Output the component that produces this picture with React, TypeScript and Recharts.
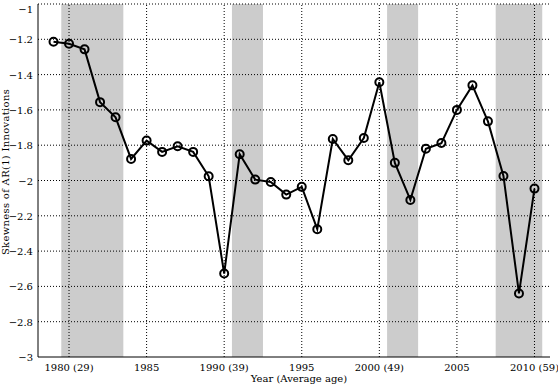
import {
  LineChart, Line, XAxis, YAxis, ReferenceArea, ReferenceLine,
} from 'recharts';

const years = [
  1979, 1980, 1981, 1982, 1983, 1984, 1985, 1986, 1987, 1988, 1989,
  1990, 1991, 1992, 1993, 1994, 1995, 1996, 1997, 1998, 1999,
  2000, 2001, 2002, 2003, 2004, 2005, 2006, 2007, 2008, 2009, 2010,
];
const skewness = [
  -1.214, -1.225, -1.257, -1.556, -1.642, -1.878, -1.774, -1.838, -1.806, -1.838, -1.976,
  -2.527, -1.851, -1.995, -2.008, -2.08, -2.036, -2.276, -1.765, -1.885, -1.759,
  -1.443, -1.9, -2.11, -1.82, -1.788, -1.6, -1.461, -1.665, -1.974, -2.64, -2.046,
];
// shaded recession bands (start, end)
const recessions: [number, number][] = [
  [1979.5, 1983.5],
  [1990.5, 1992.5],
  [2000.5, 2002.5],
  [2007.5, 2010.5],
];
const xTicks = [1980, 1985, 1990, 1995, 2000, 2005, 2010];
const xTickLabels: Record<number, string> = {
  1980: '1980 (29)',
  1985: '1985',
  1990: '1990 (39)',
  1995: '1995',
  2000: '2000 (49)',
  2005: '2005',
  2010: '2010 (59)',
};
const yTicks = [-3, -2.8, -2.6, -2.4, -2.2, -2, -1.8, -1.6, -1.4, -1.2, -1];

const data = years.map((year, i) => ({ year, skew: skewness[i] }));

const font = 'DejaVu Serif';
const txt = { fill: '#000', fontSize: 10, fontFamily: font };

const fmtY = (v: number) => String(Math.round(v * 10) / 10).replace('-', '\u2212');

function XTick({ x, y, payload }: any) {
  return (
    <text x={x} y={y + 12} textAnchor="middle" fontFamily={font} style={txt}>
      {xTickLabels[payload.value] ?? String(payload.value)}
    </text>
  );
}

function YTick({ x, y, payload }: any) {
  return (
    <text x={x - 3} y={y + 4} textAnchor="end" fontFamily={font} style={txt}>
      {fmtY(payload.value)}
    </text>
  );
}

export default function App() {
  return (
    <div style={{ position: 'absolute', left: 0, top: 0, background: '#fff' }}>
      <LineChart
        width={558}
        height={385}
        data={data}
        margin={{ top: 4, right: 8, left: 0, bottom: 0 }}
      >
        {recessions.map(([a, b]) => (
          <ReferenceArea key={a} x1={a} x2={b} fill="#cccccc" fillOpacity={1} stroke="none" />
        ))}
        {yTicks.slice(1).map((v) => (
          <ReferenceLine key={'h' + v} y={v} stroke="#000" strokeDasharray="1 2" />
        ))}
        {xTicks.map((v) => (
          <ReferenceLine key={'v' + v} x={v} stroke="#000" strokeDasharray="1 2" />
        ))}
        <XAxis
          dataKey="year"
          type="number"
          domain={[1978, 2011]}
          ticks={xTicks}
          tick={<XTick />}
          tickLine={false}
          tickSize={0}
          height={28}
          stroke="#000"
          allowDataOverflow
          label={{
            content: () => (
              <text x={299} y={382} textAnchor="middle" fontFamily={font} style={txt}>
                Year (Average age)
              </text>
            ),
          }}
        />
        <YAxis
          type="number"
          domain={[-3, -1]}
          ticks={yTicks}
          tick={<YTick />}
          tickLine={false}
          tickSize={0}
          width={38}
          stroke="#000"
          label={{
            content: () => (
              <text
                x={9}
                y={172}
                transform="rotate(-90 9 172)"
                textAnchor="middle"
                fontFamily={font}
                style={{ ...txt, letterSpacing: 0.3 }}
              >
                Skewness of AR(1) Innovations
              </text>
            ),
          }}
        />
        <Line
          dataKey="skew"
          stroke="#000"
          strokeWidth={2}
          dot={{ r: 4, stroke: '#000', strokeWidth: 2, fill: 'none' }}
          activeDot={false}
          isAnimationActive={false}
        />
      </LineChart>
    </div>
  );
}
